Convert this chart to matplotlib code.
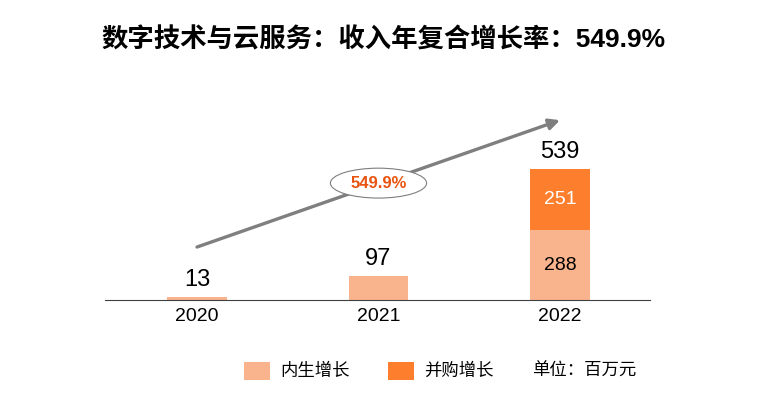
import matplotlib
matplotlib.use('Agg')
import matplotlib.pyplot as plt
from matplotlib.patches import Ellipse, Rectangle

plt.rcParams['font.family'] = ['Liberation Sans', 'Noto Sans CJK SC', 'DejaVu Sans']

years = ['2020', '2021', '2022']
organic = [13, 97, 288]
acquired = [0, 0, 251]
totals = [13, 97, 539]
cagr_label = '549.9%'
title = '数字技术与云服务：收入年复合增长率：549.9%'
legend_labels = ['内生增长', '并购增长']
unit_label = '单位：百万元'

c_light = '#F9B48E'
c_dark = '#FD7F2E'

W, H = 777, 397
fig = plt.figure(figsize=(W / 100, H / 100), dpi=100)
# axes placed in pixel terms: x 105..650, y 100..300 (from top)
ax = fig.add_axes([105 / W, (H - 300) / H, 545 / W, 200 / H])
ax.set_xlim(-0.507, 2.496)
ax.set_ylim(0, 823)

x = list(range(len(years)))
w = 0.33
ax.bar(x, organic, w, color=c_light)
ax.bar(x, acquired, w, bottom=organic, color=c_dark)

for i in x:
    ax.text(i, totals[i] + 25, str(totals[i]), ha='center', va='bottom', fontsize=17)
# inner labels for the stacked year
ax.text(2, organic[2] / 2, str(organic[2]), ha='center', va='center', fontsize=14)
ax.text(2, organic[2] + acquired[2] / 2, str(acquired[2]), ha='center', va='center',
        fontsize=14, color='white')

for s in ['top', 'right', 'left']:
    ax.spines[s].set_visible(False)
ax.spines['bottom'].set_color('#404040')
ax.spines['bottom'].set_linewidth(0.8)
ax.set_yticks([])
ax.set_xticks(x)
ax.set_xticklabels(years, fontsize=14)
ax.tick_params(axis='x', length=0, pad=6)

# growth arrow
ax.annotate('', xy=(2.0, 740), xytext=(0.0, 218),
            arrowprops=dict(arrowstyle='-|>', color='#7F7F7F', lw=2.4,
                            mutation_scale=16, shrinkA=0, shrinkB=0),
            annotation_clip=False)
ell = Ellipse((1.0, 481), 0.53, 123, facecolor='white', edgecolor='#7F7F7F', lw=0.8, zorder=5)
ax.add_patch(ell)
ax.text(1.0, 481, cagr_label, ha='center', va='center', fontsize=12, fontweight='bold',
        color='#E8540F', zorder=6)

fig.text(383 / W, 1 - 40 / H, title, ha='center', va='center', fontsize=19, fontweight='bold')

# legend row
leg_y = 1 - 371 / H
for px, lab, col in [(244, legend_labels[0], c_light), (388, legend_labels[1], c_dark)]:
    fig.patches.append(Rectangle((px / W, 1 - 380 / H), 26 / W, 18 / H, transform=fig.transFigure,
                                 facecolor=col, edgecolor='none'))
    fig.text((px + 36) / W, leg_y, lab, ha='left', va='center', fontsize=12.5)
fig.text(532 / W, leg_y, unit_label, ha='left', va='center', fontsize=12.5)

fig.savefig('out.png', dpi=100)
